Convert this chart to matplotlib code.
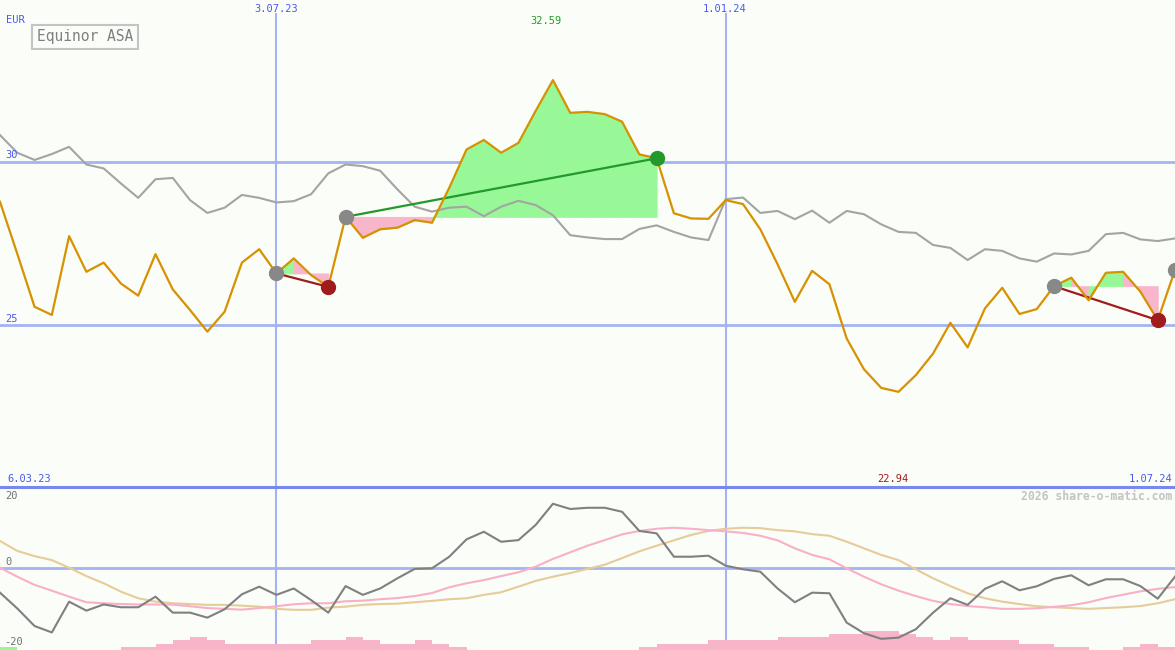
import numpy as np
import pandas as pd
import matplotlib
matplotlib.use("Agg")
import matplotlib.pyplot as plt
from matplotlib.lines import Line2D

# weekly closes, Equinor ASA (EUR), 13.03.23 .. 1.07.24
dates = pd.date_range("2023-03-13", periods=69, freq="7D")

price = [28.77, 27.18, 25.56, 25.31, 27.72, 26.63, 26.91, 26.27, 25.90, 27.17,
         26.09, 25.46, 24.80, 25.41, 26.91, 27.32, 26.58, 27.04, 26.53, 26.17,
         28.31, 27.67, 27.93, 27.98, 28.21, 28.13, 29.20, 30.37, 30.66, 30.27,
         30.57, 31.55, 32.49, 31.49, 31.52, 31.45, 31.22, 30.22, 30.10, 28.42,
         28.26, 28.25, 28.82, 28.70, 27.93, 26.86, 25.71, 26.66, 26.25, 24.59,
         23.65, 23.08, 22.96, 23.47, 24.13, 25.07, 24.32, 25.51, 26.14, 25.34,
         25.49, 26.19, 26.45, 25.76, 26.60, 26.63, 26.02, 25.15, 26.68]

bench = [30.81, 30.27, 30.05, 30.23, 30.45, 29.91, 29.79, 29.33, 28.89, 29.46,
         29.50, 28.82, 28.43, 28.59, 28.98, 28.89, 28.75, 28.79, 29.00, 29.64,
         29.91, 29.86, 29.72, 29.15, 28.62, 28.47, 28.59, 28.62, 28.33, 28.62,
         28.80, 28.67, 28.36, 27.75, 27.68, 27.63, 27.63, 27.94, 28.05, 27.85,
         27.68, 27.60, 28.85, 28.90, 28.43, 28.49, 28.24, 28.50, 28.13, 28.49,
         28.39, 28.08, 27.85, 27.82, 27.45, 27.36, 26.99, 27.32, 27.27, 27.04,
         26.94, 27.19, 27.16, 27.27, 27.78, 27.82, 27.62, 27.57, 27.65]

momentum = [-6.25, -10.2, -14.6, -16.2, -8.5, -10.75, -9.2, -9.9, -9.9, -7.25,
            -11.25, -11.25, -12.5, -10.4, -6.65, -4.75, -6.8, -5.2, -8.1, -11.25,
            -4.6, -6.8, -5.2, -2.65, -0.3, -0.15, 2.75, 7.1, 9.0, 6.5,
            6.9, 10.7, 16.0, 14.7, 15.0, 15.0, 14.0, 9.2, 8.6, 2.75,
            2.75, 3.0, 0.5, -0.4, -1.0, -5.2, -8.65, -6.25, -6.4, -13.75,
            -16.4, -17.8, -17.5, -15.4, -11.25, -7.65, -9.3, -5.3, -3.4, -5.65,
            -4.65, -2.8, -1.9, -4.4, -2.9, -2.9, -4.6, -7.75, -2.25]

fast_avg = [0.0, -2.25, -4.3, -5.75, -7.25, -8.65, -8.9, -9.1, -9.2, -9.2,
            -9.25, -9.65, -10.1, -10.3, -10.5, -10.1, -9.65, -9.15, -8.9, -8.9,
            -8.4, -8.25, -7.9, -7.6, -7.1, -6.35, -4.9, -3.9, -3.1, -2.1,
            -1.15, 0.25, 2.2, 3.85, 5.5, 6.9, 8.35, 9.2, 9.75, 10.0,
            9.75, 9.4, 9.1, 8.7, 8.0, 6.85, 4.85, 3.2, 2.1, -0.15,
            -2.25, -4.15, -5.75, -7.1, -8.3, -9.1, -9.6, -9.9, -10.3, -10.3,
            -10.15, -9.8, -9.4, -8.65, -7.6, -6.75, -5.9, -5.3, -4.85]

slow_avg = [6.7, 4.2, 2.9, 1.9, 0.0, -2.1, -3.9, -6.0, -7.65, -8.5,
            -8.9, -9.1, -9.3, -9.3, -9.5, -9.75, -10.3, -10.55, -10.55, -10.0,
            -9.75, -9.3, -9.1, -9.0, -8.65, -8.3, -7.9, -7.65, -6.8, -6.15,
            -4.75, -3.3, -2.25, -1.35, -0.3, 0.75, 2.4, 4.1, 5.5, 6.85,
            8.2, 9.2, 9.75, 10.0, 9.9, 9.4, 9.1, 8.4, 8.0, 6.5,
            4.85, 3.2, 1.9, -0.4, -2.65, -4.6, -6.4, -7.65, -8.5, -9.1,
            -9.65, -9.9, -10.1, -10.3, -10.1, -9.9, -9.6, -8.9, -7.9]

# weekly bars at the bottom, signed level (one per week interval)
hist = [1, 0, 0, 0, 0, 0, 0, -1, -1, -2,
        -3, -4, -3, -2, -2, -2, -2, -2, -3, -3,
        -4, -3, -2, -2, -3, -2, -1, 0, 0, 0,
        0, 0, 0, 0, 0, 0, 0, -1, -2, -2,
        -2, -3, -3, -3, -3, -4, -4, -4, -5, -5,
        -6, -6, -5, -4, -3, -4, -3, -3, -3, -2,
        -2, -1, -1, 0, 0, -1, -2, -1]

# trades: (entry index, exit index)
trades = [(16, 19), (20, 38), (61, 67)]
open_entry = 68

BG = "#fbfdf8"
GRID = "#a4b4f2"
SEP = "#7888ee"
BLUE = "#4a5af0"
GOLD = "#d69200"
FILL_UP = "#98f898"
FILL_DN = "#f8b6ca"
WIN = "#22992a"
LOSS = "#a01c1c"
MONO = "DejaVu Sans Mono"

W, H = 1175, 650
split = 487

fig = plt.figure(figsize=(W / 100, H / 100), dpi=100)
fig.patch.set_facecolor(BG)

ax = fig.add_axes([0, (H - split) / H, 1, split / H])
ax2 = fig.add_axes([0, 0, 1, (H - split) / H])
for a in (ax, ax2):
    a.set_axis_off()
    a.set_xlim(dates[0], dates[-1])
ax.set_ylim(20.05, 34.94)
ax2.set_ylim(-20.6, 20.2)

# grid
for lvl in (30, 25):
    ax.axhline(lvl, color=GRID, lw=2, zorder=0)
ax2.axhline(0, color=GRID, lw=2, zorder=0)
for d in ("2023-07-03", "2024-01-01"):
    ax.axvline(pd.Timestamp(d), ymax=(split - 14) / split, color=GRID, lw=1.5, zorder=0)
    ax2.axvline(pd.Timestamp(d), color=GRID, lw=1.5, zorder=0)
fig.add_artist(Line2D([0, 1], [(H - split) / H] * 2, transform=fig.transFigure,
                      color=SEP, lw=2.2))

# trade fills, one per week interval
p = np.array(price)
for s, e in trades:
    lvl = p[s]
    for k in range(s, e):
        col = FILL_UP if p[k + 1] >= lvl else FILL_DN
        ax.fill_between(dates[k:k + 2], p[k:k + 2], lvl, facecolor=col,
                        edgecolor=col, lw=0.6, zorder=1)

ax.plot(dates, bench, color="#a4a4a4", lw=1.5, zorder=2)

for s, e in trades:
    col = WIN if p[e] > p[s] else LOSS
    ax.plot([dates[s], dates[e]], [p[s], p[e]], color=col, lw=1.6, zorder=3)

ax.plot(dates, price, color=GOLD, lw=1.6, zorder=4)

for s, e in trades:
    col = WIN if p[e] > p[s] else LOSS
    ax.plot(dates[s], p[s], "o", ms=10, color="#888888", zorder=5)
    ax.plot(dates[e], p[e], "o", ms=10, color=col, zorder=5)
ax.plot(dates[open_entry], p[open_entry], "o", ms=10, color="#888888", zorder=5,
        clip_on=False)

# lower panel
h = np.array(hist)
ax2.bar(dates[:-1], np.abs(h) * 0.8, width=7, align="edge", bottom=-20.6,
        color=[FILL_UP if v > 0 else "#f8b4c8" for v in h], lw=0,
        antialiased=False, zorder=1)
ax2.plot(dates, slow_avg, color="#e6cc98", lw=1.5, zorder=2)
ax2.plot(dates, fast_avg, color="#f8b0c8", lw=1.5, zorder=2)
ax2.plot(dates, momentum, color="#808080", lw=1.5, zorder=3)


def label(x, y, s, color, size=7.5, ha="left", **kw):
    fig.text(x / W, 1 - y / H, s, color=color, fontsize=size, ha=ha, va="center",
             family=MONO, **kw)


label(6, 20, "EUR", BLUE)
label(276, 9, "3.07.23", BLUE, ha="center")
label(725, 9, "1.01.24", BLUE, ha="center")
label(546, 21, "32.59", "#20a020", ha="center")
label(5, 155, "30", BLUE)
label(5, 319, "25", BLUE)
label(7, 479, "6.03.23", BLUE)
label(893, 479, "22.94", LOSS, ha="center")
label(1172, 479, "1.07.24", BLUE, ha="right")
label(1172, 496, "2026 share-o-matic.com", "#c4c4c4", size=8.3, ha="right",
      fontweight="bold")
label(5, 496, "20", "#707070")
label(5, 562, "0", "#707070")
label(4, 642, "-20", "#707070")
label(85, 37, "Equinor ASA", "#808080", size=10.5, ha="center",
      bbox=dict(boxstyle="square,pad=0.3", fc=BG, ec="#c4c4c4", lw=1.5))

fig.savefig("out.png", dpi=100, facecolor=BG)
